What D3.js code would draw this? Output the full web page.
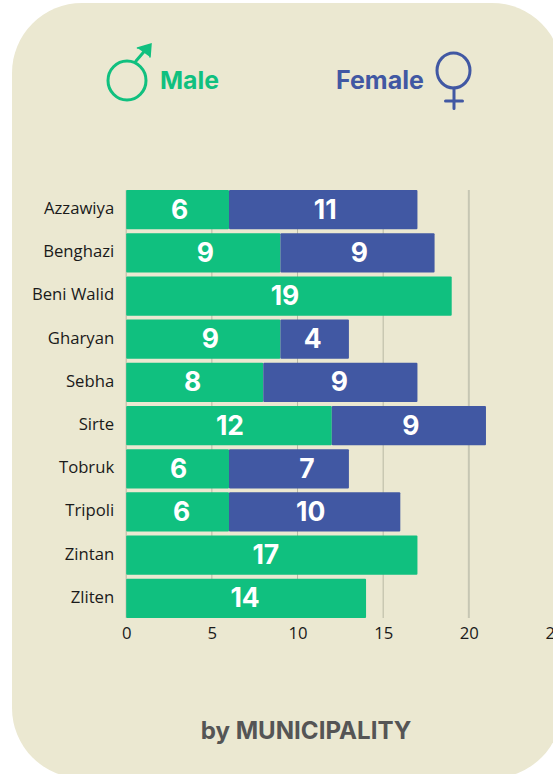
<!DOCTYPE html>
<html><head><meta charset="utf-8">
<script src="https://cdnjs.cloudflare.com/ajax/libs/d3/7.8.5/d3.min.js"></script>
<style>html,body{margin:0;padding:0;background:#fff;overflow:hidden}svg{display:block}</style>
</head><body><svg id="c" width="553" height="774"></svg>
<script>
const categories=["Azzawiya","Benghazi","Beni Walid","Gharyan","Sebha","Sirte","Tobruk","Tripoli","Zintan","Zliten"];
const maleValues=[6,9,19,9,8,12,6,6,17,14];
const femaleValues=[11,9,0,4,9,9,7,10,0,0];
const xTicks=[0,5,10,15,20,25];
const maleNudge=[2,2,-4,7,-2,1,1,4,-6,-1];
const femaleNudge=[2,2,0,-2,-1,2,18,-4,0,0];

const GREEN="#10c07f",BLUE="#4158a3",BG="#ebe8d1";
const svg=d3.select("#c");
svg.append("rect").attr("x",12).attr("y",3).attr("width",550).attr("height",775).attr("rx",70).attr("fill",BG);
const x=d3.scaleLinear().domain([0,25]).range([126.2,554.5]);
const y=d3.scaleBand().domain(categories).range([190,618]).paddingInner(0.09).paddingOuter(0);

const g=svg.append("g");
g.selectAll("line.grid").data(xTicks.slice(0,5)).join("line").attr("class","grid")
 .attr("x1",d=>x(d)).attr("x2",d=>x(d)).attr("y1",190).attr("y2",618)
 .attr("stroke",d=>d===20?"#c6c6b3":"#b8b8a4").attr("stroke-width",d=>d===20?2:1);

const rows=categories.map((c,i)=>({c,i,m:maleValues[i],f:femaleValues[i]}));
g.selectAll("rect.m").data(rows).join("rect").attr("x",x(0)).attr("y",d=>y(d.c))
 .attr("width",d=>x(d.m)-x(0)).attr("height",y.bandwidth()).attr("fill",GREEN).attr("rx",1);
g.selectAll("rect.f").data(rows.filter(d=>d.f>0)).join("rect").attr("x",d=>x(d.m)).attr("y",d=>y(d.c))
 .attr("width",d=>x(d.m+d.f)-x(d.m)).attr("height",y.bandwidth()).attr("fill",BLUE).attr("rx",1);

const lab=sel=>sel.attr("text-anchor","middle").attr("dominant-baseline","central")
 .attr("font-family","Inter").attr("font-weight",700).attr("font-size",26.5).attr("fill","#fff");
g.selectAll("text.m").data(rows).join("text").attr("class","m").call(lab)
 .attr("x",d=>x(d.m/2)+maleNudge[d.i]).attr("y",d=>y(d.c)+y.bandwidth()/2-1).text(d=>d.m);
g.selectAll("text.f").data(rows.filter(d=>d.f>0)).join("text").attr("class","f").call(lab)
 .attr("x",d=>x(d.m+d.f/2)+femaleNudge[d.i]).attr("y",d=>y(d.c)+y.bandwidth()/2-1).text(d=>d.f);

const yAxis=d3.axisLeft(y).tickSize(0).tickPadding(12);
const ya=svg.append("g").attr("transform",`translate(${x(0)},-1)`).call(yAxis);
ya.select(".domain").remove();
ya.selectAll("text").attr("font-family","Open Sans").attr("font-size",16.7).attr("fill","#1a1a1a");
const xAxis=d3.axisBottom(x).tickValues(xTicks).tickSize(0).tickPadding(9);
const xa=svg.append("g").attr("transform","translate(0,618)").call(xAxis);
xa.select(".domain").remove();
xa.selectAll("text").attr("font-family","Open Sans").attr("font-size",16.7).attr("fill","#1a1a1a");

const t=(s,px,py,col,size,anchor)=>svg.append("text").attr("x",px).attr("y",py).attr("fill",col)
 .attr("font-family","Inter").attr("font-weight",700).attr("font-size",size).attr("text-anchor",anchor||"start").text(s);
t("Male",160,89,GREEN,24.8);
t("Female",336,89,BLUE,25);
t("by MUNICIPALITY",306,739,"#555555",24.1,"middle");

// gender symbols
const m=svg.append("g").attr("fill","none").attr("stroke",GREEN).attr("stroke-width",3).attr("stroke-linecap","round");
m.append("ellipse").attr("cx",127).attr("cy",80.5).attr("rx",19).attr("ry",19.5);
m.append("path").attr("d","M136 61L148 47");
m.append("path").attr("d","M137.5 48L151 44L150 57").attr("fill",GREEN).attr("stroke-width",1.5);
const fm=svg.append("g").attr("fill","none").attr("stroke",BLUE).attr("stroke-width",3).attr("stroke-linecap","round");
fm.append("ellipse").attr("cx",453.5).attr("cy",70.5).attr("rx",16.5).attr("ry",17.5);
fm.append("path").attr("d","M454 88V108.5M445.5 101H462.5");
</script></body></html>
